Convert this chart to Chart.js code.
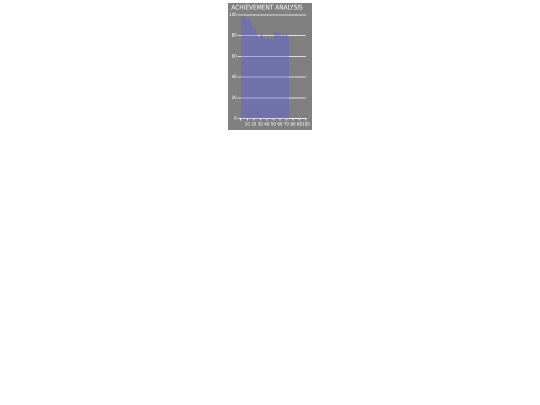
<!DOCTYPE html>
<html><head><meta charset="utf-8">
<script src="https://cdn.jsdelivr.net/npm/chart.js@4"></script>
<style>
html,body{margin:0;padding:0;background:#fff;}
#wrap{position:absolute;left:228px;top:3px;width:84px;height:127px;background:#808080;}
</style></head><body>
<div id="wrap"><canvas id="c"></canvas></div>
<script>
const titleText = 'ACHIEVEMENT ANALYSIS';
const xValues = [0,2,4,6,8,10,12,14,16,18,20,22,24,26,28,30,32,34,36,38,40,42,44,46,48,50,52,54,56,58,60,62,64,66,68,70,72,74];
const scores  = [100,98,94,99,97,92,97,95,89,88,86,87,81,79,76,77,83,76,78,75,77,78,74,77,76,75,80,84,83,80,82,79,81,80,78,81,79,77];
const yTicks = [0,20,40,60,80,100];
const xTicks = [10,20,30,40,50,60,70,80,90,100];

const points = xValues.map((x,i)=>({x:x,y:scores[i]}));
new Chart(document.getElementById('c'), {
  type:'line',
  data:{datasets:[{data:points,fill:'origin',backgroundColor:'rgba(88,88,243,0.36)',borderColor:'rgba(88,88,230,0.45)',borderWidth:0.5,pointRadius:0,tension:0}]},
  options:{
    responsive:true, maintainAspectRatio:false, animation:false,
    devicePixelRatio: 2,
    layout:{padding:{left:0,right:6,top:0,bottom:0}},
    plugins:{legend:{display:false},tooltip:{enabled:false},
      title:{display:true,text:titleText,color:'#ffffff',font:{family:'DejaVu Sans Condensed, Liberation Sans, sans-serif',size:6.5,weight:'normal'},padding:{top:1,bottom:3}}},
    scales:{
      x:{type:'linear',min:0,max:100,
        afterBuildTicks:(ax)=>{ax.ticks=[{value:0}].concat(xTicks.map(v=>({value:v})));},
        afterFit:(ax)=>{ax.height=11.5;},
        ticks:{color:'#ffffff',font:{size:4.5,family:'DejaVu Sans Condensed, Liberation Sans, sans-serif'},padding:1,maxRotation:0,autoSkip:false,callback:(v)=>v===0?'':v},
        grid:{display:true,drawOnChartArea:false,drawTicks:true,tickLength:2,color:'#eeeeee'},
        border:{color:'#eeeeee',width:1}},
      y:{min:0,max:100,
        afterBuildTicks:(ax)=>{ax.ticks=yTicks.map(v=>({value:v}));},
        ticks:{color:'#ffffff',font:{size:4.5,family:'DejaVu Sans Condensed, Liberation Sans, sans-serif'},padding:1},
        grid:{color:'#dddddd',lineWidth:1,tickLength:3},
        border:{display:false}}
    }
  }
});
</script></body></html>
